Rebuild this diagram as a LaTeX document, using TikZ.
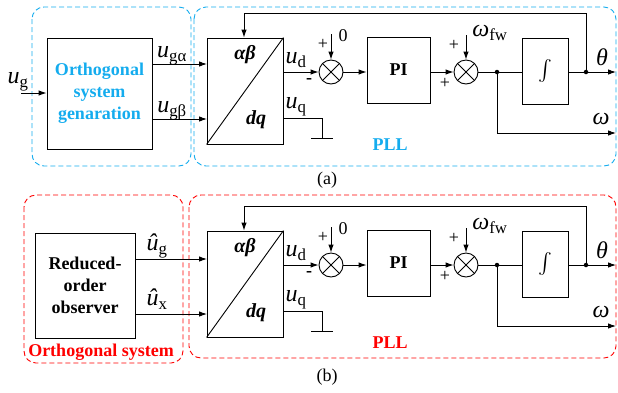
\documentclass[tikz,border=0pt]{standalone}
\usepackage{exscale}
\usepackage{fontspec}
\setmainfont{Liberation Serif}
\usetikzlibrary{arrows.meta}

\definecolor{pllblue}{RGB}{20,172,238}
\definecolor{pllred}{RGB}{255,0,0}

\newcommand{\boxfont}{\fontsize{18}{22}\selectfont}
\newcommand{\vlab}[2]{\textit{#1}\textsubscript{#2}}

\tikzset{
  blk/.style={draw,line width=0.9pt,inner sep=0pt},
  wire/.style={line width=0.9pt},
  sig/.style={wire,-{Latex[length=8pt,width=5.5pt]}},
  zone/.style={dash pattern=on 5pt off 3pt,rounded corners=12pt,line width=0.9pt},
  sumnode/.style={draw,circle,line width=0.9pt,minimum size=24pt,inner sep=0pt,
    path picture={\draw[line width=0.9pt] (path picture bounding box.north west) -- (path picture bounding box.south east)
      (path picture bounding box.south west) -- (path picture bounding box.north east);}},
  dot/.style={circle,fill,inner sep=0pt,minimum size=4.5pt},
  lbl/.style={inner sep=0pt,font=\fontsize{24}{26}\selectfont},
  sgn/.style={inner sep=0pt,font=\boxfont}
}

\begin{document}
\begin{tikzpicture}[x=1pt,y=-1pt]
  \useasboundingbox (0,0) rectangle (618,392);

  % dashed zones
  \draw[zone,pllblue] (32,7) rectangle (191,166);
  \draw[zone,pllblue] (194,7) rectangle (616,166);
  \draw[zone,pllred] (24,195) rectangle (183,363);
  \draw[zone,pllred] (189,195) rectangle (616,358);

  % PLL chain, once per panel
  \foreach \dy/\p in {0/a,193/b}{
    \begin{scope}[yshift=-\dy pt]
      \node[blk,minimum width=76pt,minimum height=106pt] (tr\p) at (245,91) {};
      \draw[wire] (tr\p.south west) -- (tr\p.north east);
      \node[sgn,font=\fontsize{20}{22}\selectfont\bfseries\itshape] (ab\p) at (245,55) {αβ};
      \node[sgn,font=\fontsize{20}{22}\selectfont\bfseries\itshape] (dq\p) at (256,120) {dq};
      \node[sumnode] (sa\p) at (331,72) {};
      \node[blk,minimum width=63pt,minimum height=66pt,font=\boxfont\bfseries] (pi\p) at (398.5,70) {PI};
      \node[sumnode] (sb\p) at (466,72) {};
      \node[dot] (j\p) at (497,72) {};
      \node[blk,minimum width=46pt,minimum height=66pt,font=\fontsize{20}{22}\selectfont] (in\p) at (545,71) {$\int$};
      \node[dot] (th\p) at (586,72) {};
      \coordinate (uq\p) at (283,118);
      \coordinate (gd\p) at (322,138);
      \coordinate (za\p) at (331,34);
      \coordinate (zb\p) at (466,35);
      \coordinate (fb\p) at (244,13);
      \coordinate (te\p) at (616,72);
      \coordinate (we\p) at (616,133);
      % connectors
      \draw[sig] (sa\p -| tr\p.east) -- (sa\p);
      \draw[wire] (uq\p) -| (gd\p);
      \draw[wire] ([xshift=-11pt]gd\p) -- ([xshift=11pt]gd\p);
      \draw[sig] (za\p) -- (sa\p);
      \draw[sig] (sa\p) -- (pi\p.west |- sa\p);
      \draw[sig] (pi\p.east |- sb\p) -- (sb\p);
      \draw[sig] (zb\p) -- (sb\p);
      \draw[wire] (sb\p) -- (in\p.west |- sb\p);
      \draw[wire] (in\p.east |- th\p) -- (th\p);
      \draw[sig] (th\p) -- (te\p);
      \draw[sig] (j\p) |- (we\p);
      \draw[sig] (th\p) |- (fb\p) -- (fb\p |- tr\p.north);
      % labels
      \node[lbl] (ud\p) at (296,60) {\vlab{u}{d}};
      \node[lbl] (uql\p) at (296,107) {\vlab{u}{q}};
      \node[sgn,font=\boxfont\bfseries] (ma\p) at (309,81) {-};
      \node[sgn] (pa\p) at (323,44) {+};
      \node[sgn] (zr\p) at (343,36) {0};
      \node[sgn] (pb\p) at (454,45) {+};
      \node[sgn] (pc\p) at (445,83) {+};
      \node[lbl] (wf\p) at (490,33) {\textit{ω}\textsubscript{fw}};
      \node[lbl] (tl\p) at (602,57) {\textit{θ}};
      \node[lbl] (wl\p) at (601,119) {\textit{ω}};
    \end{scope}
  }

  % (a) orthogonal system generation
  \node[blk,minimum width=105pt,minimum height=111pt,font=\boxfont\bfseries,text=pllblue,align=center] (osg) at (99.5,93.5) {Orthogonal\\system\\genaration};
  \coordinate (ugin) at (21,93);
  \coordinate (tia) at (207,64);
  \coordinate (tib) at (207,119);
  \draw[sig] (ugin) -- (ugin -| osg.west);
  \draw[sig] (osg.east |- tia) -- (tia);
  \draw[sig] (osg.east |- tib) -- (tib);
  \node[lbl] (ug) at (18,82) {\vlab{u}{g}};
  \node[lbl] (uga) at (172,56) {\vlab{u}{gα}};
  \node[lbl] (ugb) at (172,111) {\vlab{u}{gβ}};
  \node[sgn,font=\boxfont\bfseries,text=pllblue] (plla) at (390,145) {PLL};
  \node[sgn] (capa) at (327,180) {(a)};

  % (b) reduced-order observer
  \node[blk,minimum width=100pt,minimum height=105pt,font=\boxfont\bfseries,align=center] (rob) at (85,285.5) {Reduced-\\order\\observer};
  \coordinate (tic) at (207,259);
  \coordinate (tid) at (207,314);
  \draw[sig] (rob.east |- tic) -- (tic);
  \draw[sig] (rob.east |- tid) -- (tid);
  \node[lbl] (hug) at (157,246) {\vlab{û}{g}};
  \node[lbl] (hux) at (157,299) {\vlab{û}{x}};
  \node[sgn,font=\boxfont\bfseries,text=pllred] (osys) at (101,352) {Orthogonal system};
  \node[sgn,font=\boxfont\bfseries,text=pllred] (pllb) at (390,343) {PLL};
  \node[sgn] (capb) at (327,377) {(b)};
\end{tikzpicture}
\end{document}
